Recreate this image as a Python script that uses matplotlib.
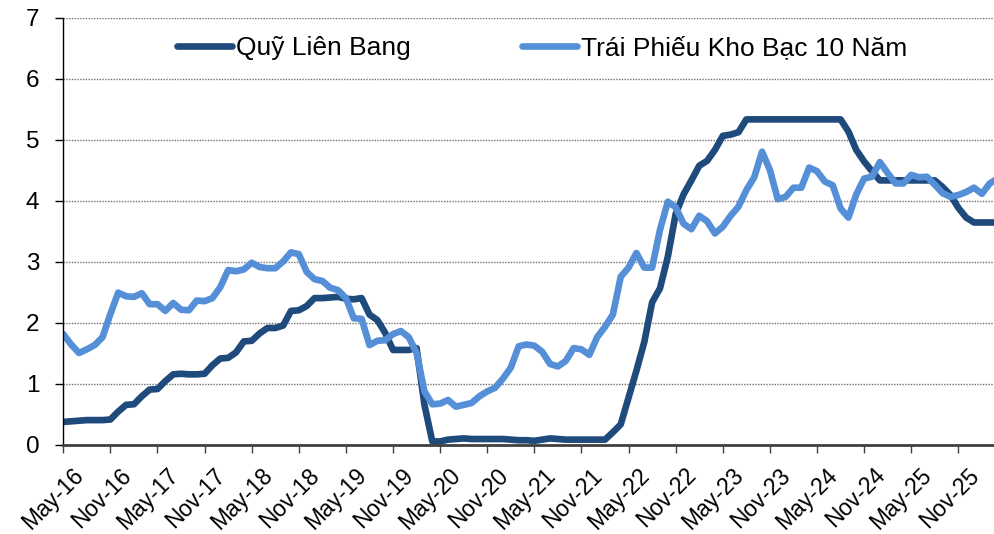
import numpy as np
import matplotlib.pyplot as plt
from matplotlib.transforms import ScaledTranslation

# monthly data, May-16 .. Apr-26
fed_funds = [
    0.37, 0.38, 0.39, 0.40, 0.40, 0.40, 0.41, 0.54,
    0.65, 0.66, 0.79, 0.90, 0.91, 1.04, 1.15, 1.16, 1.15, 1.15, 1.16, 1.30,
    1.41, 1.42, 1.51, 1.69, 1.70, 1.82, 1.91, 1.91, 1.95, 2.19, 2.20, 2.27,
    2.40, 2.40, 2.41, 2.42, 2.39, 2.38, 2.40, 2.13, 2.04, 1.83, 1.55, 1.55,
    1.55, 1.58, 0.65, 0.05, 0.05, 0.08, 0.09, 0.10, 0.09, 0.09, 0.09, 0.09,
    0.09, 0.08, 0.07, 0.07, 0.06, 0.08, 0.10, 0.09, 0.08, 0.08, 0.08, 0.08,
    0.08, 0.08, 0.20, 0.33, 0.77, 1.21, 1.68, 2.33, 2.56, 3.08, 3.78, 4.10,
    4.33, 4.57, 4.65, 4.83, 5.06, 5.08, 5.12, 5.33, 5.33, 5.33, 5.33, 5.33,
    5.33, 5.33, 5.33, 5.33, 5.33, 5.33, 5.33, 5.33, 5.13, 4.83, 4.64, 4.48,
    4.33, 4.33, 4.33, 4.33, 4.33, 4.33, 4.33, 4.33, 4.22, 4.09, 3.88, 3.72,
    3.64, 3.64, 3.64, 3.64,
]
treasury_10y = [
    1.81, 1.64, 1.50, 1.56, 1.63, 1.76, 2.14, 2.49,
    2.43, 2.42, 2.48, 2.30, 2.30, 2.19, 2.32, 2.21, 2.20, 2.36, 2.35, 2.40,
    2.58, 2.86, 2.84, 2.87, 2.98, 2.91, 2.89, 2.89, 3.00, 3.15, 3.12, 2.83,
    2.71, 2.68, 2.57, 2.53, 2.40, 2.07, 2.06, 1.63, 1.70, 1.71, 1.81, 1.86,
    1.76, 1.50, 0.87, 0.66, 0.67, 0.73, 0.62, 0.65, 0.68, 0.79, 0.87, 0.93,
    1.08, 1.26, 1.61, 1.64, 1.62, 1.52, 1.32, 1.28, 1.37, 1.58, 1.56, 1.47,
    1.76, 1.93, 2.13, 2.75, 2.90, 3.14, 2.90, 2.90, 3.52, 3.98, 3.89, 3.62,
    3.53, 3.75, 3.66, 3.46, 3.57, 3.75, 3.90, 4.17, 4.38, 4.80, 4.50, 4.02,
    4.06, 4.21, 4.21, 4.54, 4.48, 4.31, 4.25, 3.87, 3.72, 4.10, 4.36, 4.39,
    4.63, 4.45, 4.28, 4.28, 4.42, 4.38, 4.39, 4.26, 4.12, 4.06, 4.09, 4.14,
    4.21, 4.11, 4.28, 4.36,
]
tick_labels = ["May-16", "Nov-16", "May-17", "Nov-17", "May-18", "Nov-18",
               "May-19", "Nov-19", "May-20", "Nov-20", "May-21", "Nov-21",
               "May-22", "Nov-22", "May-23", "Nov-23", "May-24", "Nov-24",
               "May-25", "Nov-25"]
y_ticks = [0, 1, 2, 3, 4, 5, 6, 7]

dark = "#1F4A7C"
light = "#558FD8"

plt.rcParams['font.family'] = ['Liberation Sans', 'DejaVu Sans']

fig = plt.figure(figsize=(9.95, 5.34), dpi=100)
ax = fig.add_axes([0.0636, 0.1676, 0.9364, 0.7996])

x = np.arange(len(fed_funds))
ax.plot(x, fed_funds, color=dark, lw=4.8, label="Quỹ Liên Bang",
        solid_capstyle='round', solid_joinstyle='round')
ax.plot(x, treasury_10y, color=light, lw=4.8, label="Trái Phiếu Kho Bạc 10 Năm",
        solid_capstyle='round', solid_joinstyle='round')

ax.set_xlim(0, 118.67)
ax.set_ylim(0, 7)
ax.set_yticks(y_ticks)
ax.set_xticks(np.arange(0, 6 * len(tick_labels), 6))
ax.set_xticklabels(tick_labels, rotation=45, ha='right', rotation_mode='anchor')

for v in y_ticks[1:]:
    ax.axhline(v, color='#6f6f6f', lw=1.0, ls=(0, (1, 1)), zorder=0)

ax.spines['top'].set_visible(False)
ax.spines['right'].set_visible(False)
ax.spines['left'].set_color('black')
ax.spines['left'].set_linewidth(1.0)
ax.spines['bottom'].set_color('#404040')
ax.spines['bottom'].set_linewidth(2.0)
ax.tick_params(axis='y', labelsize=17.5, length=5.8, width=1, pad=11.5)
ax.tick_params(axis='x', labelsize=16.5, length=5.8, width=1, color='#404040', pad=8)

# shift rotated labels a little right, as in the original
shift = ScaledTranslation(0.09, 0, fig.dpi_scale_trans)
for lab in ax.get_xticklabels():
    lab.set_transform(lab.get_transform() + shift)

ax.legend(loc='center', bbox_to_anchor=(0.514, 0.9286), ncol=2, frameon=False,
          fontsize=19, handlelength=2.1, handletextpad=0.15, columnspacing=4.2)

fig.savefig("out.png", dpi=100)
